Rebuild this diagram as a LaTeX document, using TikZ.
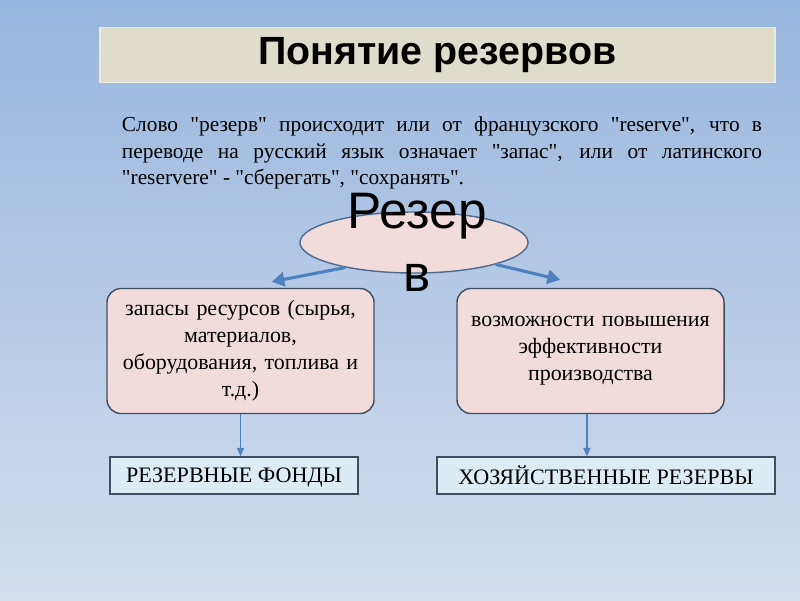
\documentclass[tikz,border=0pt]{standalone}
\usepackage{fontspec}
\setmainfont{Liberation Serif}[Ligatures=TeXOff]
\setsansfont{Liberation Sans}
\usetikzlibrary{shapes.geometric, arrows.meta, positioning, backgrounds}

\definecolor{bgtop}{RGB}{151,182,221}
\definecolor{bgbottom}{RGB}{212,222,239}
\definecolor{titlefill}{RGB}{224,220,204}
\definecolor{titleline}{RGB}{236,233,222}
\definecolor{pinkfill}{RGB}{242,220,219}
\definecolor{boxline}{RGB}{60,78,98}
\definecolor{ovalline}{RGB}{78,106,142}
\definecolor{cyanfill}{RGB}{219,236,244}
\definecolor{arrowblue}{RGB}{79,129,189}

\begin{document}
\begin{tikzpicture}[
    x=0.025cm, y=-0.025cm,
    titlebox/.style={rectangle, draw=titleline, line width=1.2pt, fill=titlefill, minimum width=16.875cm, minimum height=1.375cm, font=\sffamily\bfseries\fontsize{28}{32}\selectfont},
    intro/.style={text width=16cm, align=justify, inner sep=0pt, font=\fontsize{15.2}{18.8}\selectfont},
    oval/.style={ellipse, draw=ovalline, line width=1pt, fill=pinkfill, minimum width=5.7cm, minimum height=1.525cm},
    ovaltext/.style={align=center, inner sep=0pt, font=\sffamily\fontsize{36.5}{45}\selectfont},
    kind/.style={rectangle, draw=boxline, line width=1pt, fill=pinkfill, rounded corners=10pt, minimum width=6.675cm, minimum height=3.125cm, text width=6.4cm, align=center, font=\fontsize{15.6}{19.2}\selectfont},
    fund/.style={rectangle, draw=boxline, line width=0.9pt, fill=cyanfill, minimum height=0.925cm, text depth=0pt, align=center, font=\fontsize{15.7}{18}\selectfont},
    bigarrow/.style={draw=arrowblue, line width=2.2pt, -{Triangle[length=9pt, width=10pt]}},
    thinarrow/.style={draw=arrowblue, line width=1pt, -{Triangle[length=6pt, width=5pt]}}
]

    % --- Background ---
    \useasboundingbox (0,0) rectangle (800,600);
    \shade[top color=bgtop, bottom color=bgbottom] (0,0) rectangle (800,600);

    % --- Title and introduction ---
    \node [titlebox] (title) at (437.5,55) {Понятие резервов};
    \node [intro] (intro) at (442,153) {Слово "резерв" происходит или от французского "reserve", что в\linebreak переводе на русский язык означает "запас", или от латинского\linebreak "reservere" - "сберегать", "сохранять".};

    % --- Central notion ---
    \node [oval] (reserve) at (414,242.5) {};
    \node [ovaltext] (reservetext) at (417,242) {Резер\\в};

    % --- Two meanings ---
    \node [kind] (stocks) at (240.5,351) {запасы ресурсов (сырья,\\ материалов,\\ оборудования, топлива и\\ т.д.)};
    \node [kind] (efficiency) at (590.5,351) {возможности повышения\\ эффективности\\ производства};

    % --- Kinds of reserves ---
    \node [fund, minimum width=6.2cm] (funds) at (234,475.5) {РЕЗЕРВНЫЕ ФОНДЫ};
    \node [fund, minimum width=8.45cm] (economic) at (606,475.5) {ХОЗЯЙСТВЕННЫЕ РЕЗЕРВЫ};

    % --- Connections ---
    \path [bigarrow] (reserve.200) -- ([xshift=0.78cm, yshift=0.15cm]stocks.north);
    \path [bigarrow] (reserve.-15) -- ([xshift=-0.76cm, yshift=0.2cm]efficiency.north);
    \path [thinarrow] (stocks.south) -- (stocks.south |- funds.north);
    \path [thinarrow] ([xshift=-0.09cm]efficiency.south) -- ([xshift=-0.09cm]efficiency.south |- economic.north);

\end{tikzpicture}
\end{document}
